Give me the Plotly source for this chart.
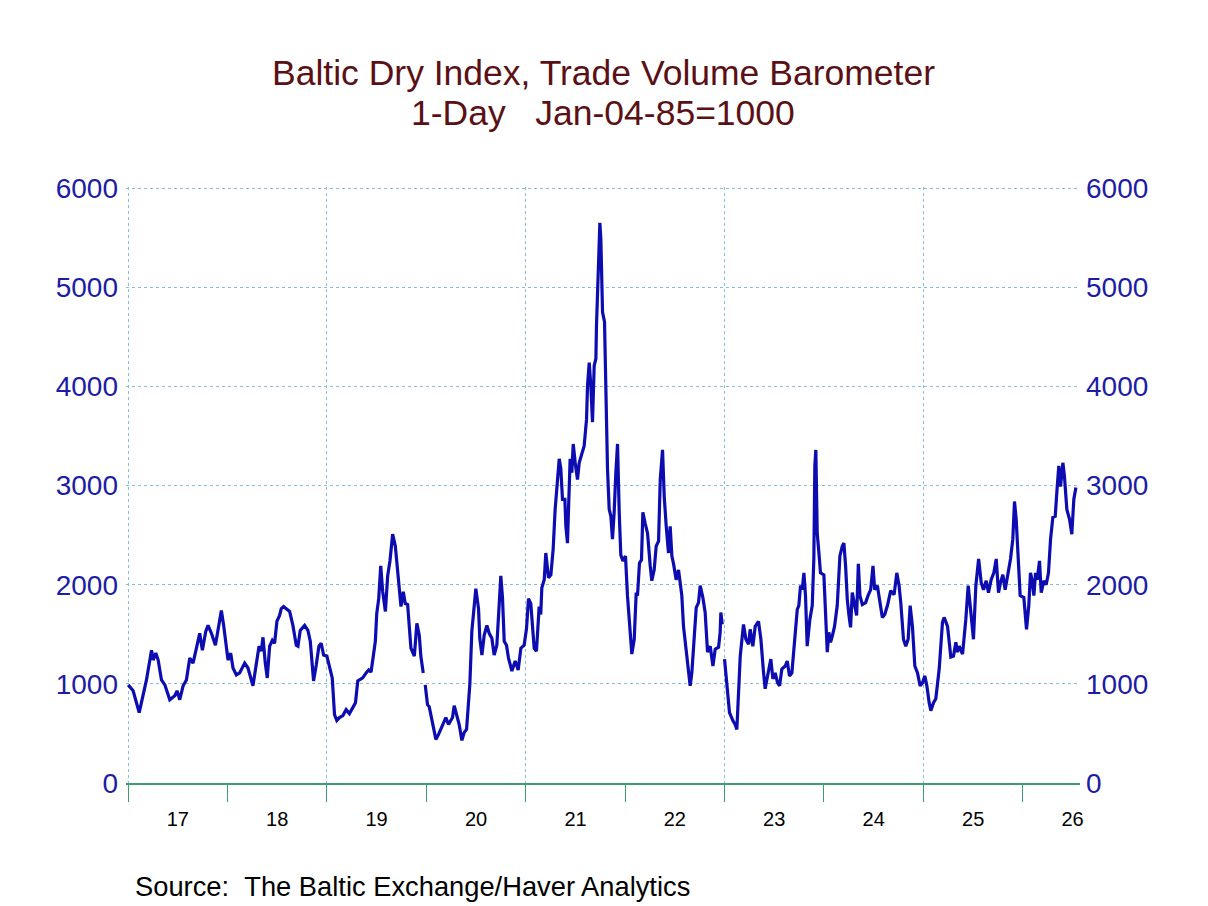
import pandas as pd
import plotly.graph_objects as go

# Time as fractional years, Baltic Dry Index values
t_frac = [
    2017.000, 2017.050, 2017.111, 2017.151, 2017.184, 2017.235, 2017.251, 2017.278, 2017.302, 2017.335,
    2017.369, 2017.419, 2017.469, 2017.492, 2017.519, 2017.553, 2017.586, 2017.620, 2017.653, 2017.687,
    2017.720, 2017.747, 2017.781, 2017.804, 2017.838, 2017.878, 2017.905, 2017.938, 2017.961, 2017.988,
    2018.005, 2018.032, 2018.055, 2018.089, 2018.122, 2018.173, 2018.206, 2018.256, 2018.290, 2018.317,
    2018.340, 2018.357, 2018.380, 2018.400, 2018.424, 2018.451, 2018.474, 2018.497, 2018.524, 2018.541,
    2018.564, 2018.591, 2018.625, 2018.658, 2018.692, 2018.709, 2018.732, 2018.776, 2018.809, 2018.833,
    2018.866, 2018.893, 2018.920, 2018.943, 2018.967,
    2019.000, 2019.027, 2019.054, 2019.077, 2019.100, 2019.127, 2019.161, 2019.194, 2019.227, 2019.261,
    2019.288, 2019.311, 2019.334, 2019.361, 2019.395, 2019.421, 2019.445, 2019.468, 2019.488, 2019.502,
    2019.522, 2019.542, 2019.562, 2019.589, 2019.612, 2019.635, 2019.662, 2019.689, 2019.712, 2019.746,
    2019.769, 2019.789, 2019.813, 2019.846, 2019.880, 2019.906, 2019.930, 2019.946, 2019.970, 2019.980,
    2019.990, 2020.013, 2020.030, 2020.064, 2020.097, 2020.124, 2020.164, 2020.197, 2020.224, 2020.247,
    2020.264, 2020.281, 2020.304, 2020.331, 2020.358, 2020.381, 2020.405, 2020.431, 2020.438, 2020.458,
    2020.475, 2020.498, 2020.525, 2020.538, 2020.559, 2020.582, 2020.609, 2020.632, 2020.659, 2020.682,
    2020.709, 2020.726, 2020.749, 2020.766, 2020.783, 2020.806, 2020.826, 2020.860, 2020.893, 2020.923,
    2020.950, 2020.983,
    2021.007, 2021.027, 2021.050, 2021.084, 2021.107, 2021.134, 2021.150, 2021.161, 2021.185, 2021.201,
    2021.228, 2021.252, 2021.275, 2021.295, 2021.319, 2021.336, 2021.352, 2021.369, 2021.393, 2021.403,
    2021.419, 2021.436, 2021.446, 2021.463, 2021.477, 2021.497, 2021.520, 2021.537, 2021.564, 2021.587,
    2021.611, 2021.621, 2021.638, 2021.654, 2021.671, 2021.688, 2021.705, 2021.711, 2021.732, 2021.745,
    2021.755, 2021.772, 2021.792, 2021.805, 2021.822, 2021.839, 2021.856, 2021.872, 2021.889, 2021.906,
    2021.923, 2021.940, 2021.956, 2021.977,
    2022.003, 2022.023, 2022.044, 2022.067, 2022.091, 2022.111, 2022.124, 2022.144, 2022.164, 2022.178,
    2022.201, 2022.225, 2022.252, 2022.268, 2022.292, 2022.312, 2022.336, 2022.353, 2022.376, 2022.393,
    2022.413, 2022.436, 2022.453, 2022.470, 2022.487, 2022.513, 2022.537, 2022.554, 2022.570, 2022.587,
    2022.614, 2022.638, 2022.654, 2022.671, 2022.695, 2022.715, 2022.738, 2022.755, 2022.782, 2022.805,
    2022.829, 2022.856, 2022.883, 2022.906, 2022.940, 2022.956, 2022.963, 2022.977, 2022.990,
    2023.000, 2023.023, 2023.050, 2023.084, 2023.107, 2023.124, 2023.141, 2023.158, 2023.191, 2023.215,
    2023.242, 2023.258, 2023.285, 2023.309, 2023.342, 2023.366, 2023.393, 2023.409, 2023.433, 2023.466,
    2023.487, 2023.510, 2023.534, 2023.554, 2023.577, 2023.611, 2023.631, 2023.654, 2023.678, 2023.691,
    2023.715, 2023.732, 2023.748, 2023.765, 2023.782, 2023.799, 2023.815, 2023.832, 2023.859, 2023.883,
    2023.899, 2023.909, 2023.919, 2023.933, 2023.950, 2023.966,
    2024.000, 2024.017, 2024.034, 2024.050, 2024.067, 2024.084, 2024.107, 2024.134, 2024.161, 2024.185,
    2024.201, 2024.218, 2024.235, 2024.252, 2024.268, 2024.285, 2024.309, 2024.329, 2024.346, 2024.362,
    2024.386, 2024.419, 2024.443, 2024.470, 2024.493, 2024.510, 2024.537, 2024.560, 2024.587, 2024.611,
    2024.638, 2024.671, 2024.705, 2024.732, 2024.755, 2024.772, 2024.799, 2024.822, 2024.846, 2024.866,
    2024.889, 2024.913, 2024.940, 2024.966, 2024.990,
    2025.013, 2025.034, 2025.057, 2025.074, 2025.101, 2025.124, 2025.158, 2025.191, 2025.208, 2025.242,
    2025.275, 2025.302, 2025.326, 2025.342, 2025.359, 2025.393, 2025.426, 2025.450, 2025.477, 2025.503,
    2025.527, 2025.555, 2025.581, 2025.604, 2025.631, 2025.654, 2025.681, 2025.708, 2025.732, 2025.755,
    2025.775, 2025.799, 2025.822, 2025.849, 2025.876, 2025.899, 2025.916, 2025.933, 2025.950, 2025.973,
    2026.010, 2026.037, 2026.060, 2026.077, 2026.094, 2026.111, 2026.128, 2026.144, 2026.168, 2026.185,
    2026.211, 2026.235, 2026.258, 2026.279, 2026.302, 2026.326, 2026.346, 2026.362, 2026.379, 2026.403,
    2026.419, 2026.443, 2026.470, 2026.493, 2026.513, 2026.534,
]

bdi = [
    990, 930, 710, 880, 1040, 1340, 1240, 1310, 1240, 1040,
    990, 840, 880, 930, 840, 980, 1040, 1260, 1210, 1360,
    1510, 1340, 1530, 1590, 1510, 1390, 1540, 1740, 1590, 1380,
    1240, 1310, 1160, 1090, 1110, 1210, 1160, 980, 1210, 1380,
    1330, 1470, 1210, 1060, 1380, 1440, 1410, 1630, 1690, 1760,
    1780, 1760, 1730, 1590, 1390, 1380, 1540, 1590, 1540, 1430,
    1030, 1190, 1380, 1410, 1290,
    1280, 1160, 1060, 690, 630, 660, 680, 740, 700, 760,
    810, 1030, 1040, 1060, 1110, 1140, 1120, 1260, 1430, 1710,
    1860, 2190, 1930, 1730, 2090, 2240, 2510, 2390, 2130, 1780,
    1930, 1810, 1800, 1360, 1280, 1610, 1490, 1280, 1110, None,
    990, 790, 770, 580, 440, 490, 590, 660, 590, 640,
    660, 780, 690, 590, 430, 510, 540, 860, 1000, 1530,
    1740, 1960, 1760, 1460, 1290, 1490, 1590, 1510, 1460, 1290,
    1390, 1660, 2090, 1860, 1430, 1390, 1260, 1130, 1230, 1140,
    1360, 1390,
    1560, 1860, 1810, 1360, 1330, 1780, 1700, 1970, 2050, 2320,
    2070, 2100, 2360, 2760, 3130, 3270, 3170, 2860, 2860, 2590,
    2420, 2860, 3270, 3130, 3420, 3230, 3060, 3230, 3330, 3400,
    3670, 4010, 4240, 4010, 3640, 4210, 4280, 4610, 5250, 5650,
    5490, 4750, 4650, 3910, 3170, 2760, 2690, 2460, 2730, 3130,
    3420, 2730, 2300, 2240,
    2290, 1890, 1580, 1300, 1450, 1920, 1890, 2220, 2250, 2730,
    2620, 2520, 2190, 2040, 2150, 2390, 2440, 3060, 3360, 2890,
    2590, 2320, 2590, 2290, 2210, 2050, 2150, 2020, 1890, 1580,
    1350, 1110, 980, 1110, 1550, 1770, 1820, 1990, 1870, 1720,
    1320, 1380, 1180, 1350, 1370, 1520, 1720, 1600, None,
    1250, 1010, 710, 630, 590, 540, 950, 1280, 1600, 1450,
    1400, 1550, 1380, 1580, 1630, 1450, 1110, 950, 1080, 1250,
    1050, 1110, 1010, 980, 1150, 1180, 1230, 1080, 1110, 1280,
    1580, 1750, 1790, 1990, 1950, 2120, 1890, 1380, 1650, 1790,
    2260, 3200, 3360, 2520, 2320, 2120,
    2100, 1690, 1320, 1520, 1420, 1480, 1580, 1790, 2290, 2390,
    2420, 2190, 1850, 1690, 1570, 1920, 1790, 1690, 2210, 1890,
    1800, 1820, 1890, 1950, 2190, 1950, 1990, 1850, 1670, 1700,
    1790, 1940, 1900, 2120, 1990, 1820, 1450, 1380, 1450, 1790,
    1580, 1180, 1110, 980, 1010,
    1080, 980, 810, 730, 810, 850, 1150, 1620, 1670, 1580,
    1270, 1280, 1420, 1320, 1380, 1300, 1650, 1990, 1720, 1450,
    1990, 2260, 2020, 1950, 2040, 1920, 2050, 2120, 2260, 1920,
    2020, 2100, 1950, 2120, 2260, 2460, 2840, 2660, 2260, 1890,
    1870, 1550, 1790, 2120, 2040, 1890, 2120, 2050, 2240, 1920,
    2040, 2000, 2120, 2460, 2680, 2690, 2990, 3200, 2990, 3230,
    3090, 2760, 2660, 2510, 2860, 2980,
]

y_ticks = [0, 1000, 2000, 3000, 4000, 5000, 6000]
title_line1 = "Baltic Dry Index, Trade Volume Barometer"
title_line2 = "1-Day\u00a0\u00a0\u00a0Jan-04-85=1000"
source_text = "Source:\u00a0\u00a0The Baltic Exchange/Haver Analytics"


def frac_to_date(t):
    y = int(t)
    start = pd.Timestamp(y, 1, 1)
    days = (pd.Timestamp(y + 1, 1, 1) - start).days
    return start + pd.Timedelta(days=(t - y) * days)


dates = [frac_to_date(t) for t in t_frac]

FONT = "Liberation Sans, Arial, sans-serif"
LINE_BLUE = "#0c0cb0"
LABEL_BLUE = "#1c1ca4"
GRID = "#86bedb"
AXIS_GREEN = "#3e9c72"
TITLE_RED = "#5a1014"

fig = go.Figure()
fig.add_trace(go.Scatter(
    x=dates, y=bdi, mode="lines", connectgaps=False,
    line=dict(color=LINE_BLUE, width=3.2), hoverinfo="skip",
))
# empty traces so that the overlay axes (grid axis and right-hand value axis) are drawn
fig.add_trace(go.Scatter(x=[], y=[], xaxis="x2", yaxis="y", hoverinfo="skip"))
fig.add_trace(go.Scatter(x=[], y=[], xaxis="x", yaxis="y2", hoverinfo="skip"))

x_range = ["2016-12-24", "2026-07-30"]
y_range = [0, 6012]

fig.update_layout(
    width=1208, height=906,
    margin=dict(l=126, r=128, t=187, b=123),
    paper_bgcolor="white", plot_bgcolor="white",
    showlegend=False,
    font=dict(family=FONT),
    xaxis=dict(
        type="date", range=x_range,
        tickmode="linear", tick0="2017-01-01", dtick="M12",
        tickformat="%y", ticklabelmode="period",
        ticks="outside", ticklen=17, tickwidth=1, tickcolor=AXIS_GREEN,
        showline=True, linecolor=AXIS_GREEN, linewidth=1.5,
        showgrid=False, zeroline=False,
        tickfont=dict(family=FONT, size=20, color="black"),
        ticklabelstandoff=0,
    ),
    xaxis2=dict(
        type="date", range=x_range, overlaying="x", anchor="y",
        tickmode="linear", tick0="2017-01-01", dtick="M24",
        showgrid=True, gridcolor=GRID, griddash="dot", gridwidth=1,
        showticklabels=False, ticks="", showline=False, zeroline=False,
    ),
    yaxis=dict(
        range=y_range, tickmode="array", tickvals=y_ticks,
        showgrid=True, gridcolor=GRID, griddash="dot", gridwidth=1,
        zeroline=False, showline=False, ticks="",
        tickfont=dict(family=FONT, size=28, color=LABEL_BLUE),
        ticklabelstandoff=7,
    ),
    yaxis2=dict(
        range=y_range, tickmode="array", tickvals=y_ticks,
        overlaying="y", side="right", anchor="x",
        showgrid=False, zeroline=False, showline=False, ticks="",
        tickfont=dict(family=FONT, size=28, color=LABEL_BLUE),
        ticklabelstandoff=5,
    ),
    annotations=[
        dict(text=title_line1, xref="paper", yref="paper", x=0.5, y=(783 - 73) / 596,
             xanchor="center", yanchor="middle", showarrow=False,
             font=dict(family=FONT, size=35.5, color=TITLE_RED)),
        dict(text=title_line2, xref="paper", yref="paper", x=0.5, y=(783 - 113) / 596,
             xanchor="center", yanchor="middle", showarrow=False,
             font=dict(family=FONT, size=35.5, color=TITLE_RED)),
        dict(text=source_text, xref="paper", yref="paper", x=0.007, y=(783 - 886) / 596,
             xanchor="left", yanchor="middle", showarrow=False,
             font=dict(family=FONT, size=27.3, color="black")),
    ],
)

fig.write_html("out.html")
